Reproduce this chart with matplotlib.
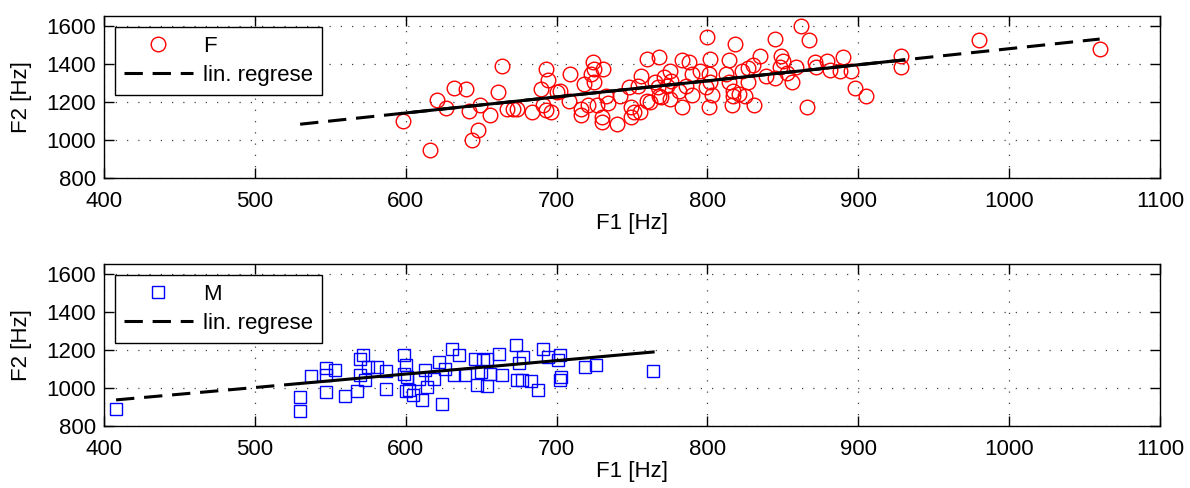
import numpy as np
import matplotlib.pyplot as plt

plt.rcParams['font.family'] = ['Liberation Sans', 'DejaVu Sans']

# formant data
f_F1 = [598, 616, 621, 627, 632, 640, 642, 649, 648, 644, 656, 661, 664, 667, 671, 674,
        684, 690, 693, 694, 691, 693, 696, 700, 702, 708, 709, 716, 716, 718, 721, 724,
        723, 725, 725, 731, 727, 730, 730, 734, 733, 740, 742, 748, 749, 749, 751, 755,
        756, 760, 760, 754, 768, 765, 768, 800, 783, 788, 802, 818, 814, 775, 771, 776,
        773, 767, 762, 769, 775, 783, 781, 786, 790, 795, 801, 802, 799, 790, 803, 801,
        812, 814, 817, 817, 816, 821, 825, 827, 827, 823, 831, 830, 835, 839, 845, 849,
        850, 848, 845, 853, 856, 859, 862, 867, 866, 871, 872, 879, 881, 888, 890, 895,
        898, 905, 928, 928, 980, 1060]
f_F2 = [1098, 950, 1212, 1167, 1275, 1268, 1150, 1181, 1054, 1002, 1129, 1250, 1390, 1164, 1164, 1164,
        1146, 1265, 1373, 1313, 1181, 1157, 1146, 1250, 1259, 1207, 1347, 1164, 1133, 1294, 1185, 1408,
        1347, 1373, 1303, 1373, 1185, 1120, 1094, 1196, 1233, 1086, 1233, 1277, 1173, 1120, 1146, 1146,
        1338, 1425, 1202, 1285, 1434, 1303, 1233, 1540, 1420, 1407, 1425, 1503, 1420, 1364, 1329, 1312,
        1285, 1277, 1198, 1224, 1216, 1173, 1259, 1285, 1347, 1364, 1347, 1303, 1277, 1237, 1237, 1173,
        1347, 1303, 1259, 1233, 1181, 1242, 1233, 1303, 1376, 1364, 1185, 1393, 1442, 1338, 1529, 1442,
        1416, 1381, 1324, 1352, 1303, 1381, 1599, 1524, 1174, 1408, 1381, 1412, 1367, 1364, 1438, 1364,
        1275, 1230, 1442, 1385, 1524, 1480]

m_F1 = [408, 530, 530, 537, 547, 547, 547, 553, 560, 568, 572, 570, 570, 573, 575, 581,
        587, 587, 599, 600, 599, 600, 601, 602, 605, 611, 613, 609, 614, 619, 622, 624,
        626, 631, 635, 632, 639, 646, 651, 654, 647, 654, 650, 656, 664, 662, 673, 675,
        674, 677, 683, 688, 678, 691, 694, 702, 701, 703, 702, 719, 726, 764]
m_F2 = [889, 953, 880, 1063, 976, 1104, 1066, 1092, 958, 984, 1171, 1150, 1066, 1040, 1110, 1110,
        1089, 993, 1174, 1118, 1075, 983, 1057, 988, 962, 939, 1092, 1049, 1005, 1049, 1136, 918,
        1101, 1206, 1171, 1066, 1066, 1153, 1145, 1153, 1014, 1009, 1083, 1075, 1066, 1179, 1223, 1130,
        1040, 1044, 1036, 991, 1162, 1206, 1162, 1171, 1145, 1057, 1040, 1110, 1118, 1089]

# regression lines (slope, intercept) and their drawn ranges
f_fit = (0.843, 636.0)
f_dash = [530, 1060]
f_solid = [597, 930]
m_fit = (0.706, 649.0)
m_dash = [408, 530]
m_solid = [530, 764]

fig = plt.figure(figsize=(11.9, 4.88), dpi=100)
ax1 = fig.add_axes([0.0874, 0.635, 0.8874, 0.332])
ax2 = fig.add_axes([0.0874, 0.127, 0.8874, 0.332])


def panel(ax, x, y, marker, color, label, fit, dash, solid):
    ax.plot(x, y, linestyle='none', marker=marker, markerfacecolor='none',
            markeredgecolor=color, markersize=10.5 if marker == 'o' else 9,
            markeredgewidth=1, label=label)
    k, q = fit
    xd = np.array(dash)
    ax.plot(xd, k * xd + q, color='black', lw=2.2, dashes=(6, 3.2), label='lin. regrese')
    xs = np.array(solid)
    ax.plot(xs, k * xs + q, color='black', lw=2.2)
    ax.set_xlim(400, 1100)
    ax.set_ylim(800, 1650)
    ax.set_xticks(np.arange(400, 1101, 100))
    ax.set_yticks([800, 1000, 1200, 1400, 1600])
    ax.grid(True, linestyle=(0, (1, 8)), color='#444444', lw=0.9)
    ax.tick_params(direction='in', length=7, width=1, top=True, right=True, labelsize=16)
    ax.tick_params(axis='x', pad=9)
    ax.tick_params(axis='y', pad=6)
    for s in ax.spines.values():
        s.set_linewidth(1)
    ax.set_xlabel('F1 [Hz]', fontsize=16, labelpad=1)
    ax.set_ylabel('F2 [Hz]', fontsize=16, labelpad=10)
    leg = ax.legend(loc='upper left', fontsize=16, frameon=True, fancybox=False,
                    edgecolor='black', framealpha=1, borderpad=0.4, borderaxespad=0,
                    handlelength=3.1, handletextpad=0.45, labelspacing=0.35,
                    bbox_to_anchor=(0.0104, 0.932))
    leg.get_frame().set_linewidth(1)


panel(ax1, f_F1, f_F2, 'o', 'red', 'F', f_fit, f_dash, f_solid)
panel(ax2, m_F1, m_F2, 's', 'blue', 'M', m_fit, m_dash, m_solid)

fig.savefig('out.png', dpi=100)
